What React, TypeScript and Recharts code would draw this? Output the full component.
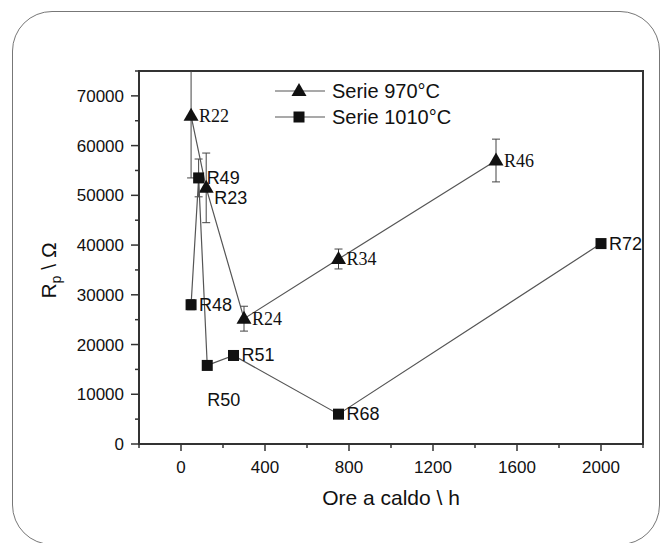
import {
  ErrorBar,
  Label,
  LabelList,
  Legend,
  ReferenceArea,
  Scatter,
  ScatterChart,
  XAxis,
  YAxis,
} from "recharts"

// Serie 970°C (triangoli)
const hours970 = [48, 120, 300, 750, 1500]
const rp970 = [66000, 51500, 25200, 37200, 57000]
const err970 = [12500, 7000, 2500, 2000, 4300]
const names970 = ["R22", "R23", "R24", "R34", "R46"]

// Serie 1010°C (quadrati)
const hours1010 = [48, 84, 125, 250, 750, 2000]
const rp1010 = [28000, 53500, 15800, 17800, 6000, 40300]
const err1010 = [1000, 3800, 0, 0, 0, 800]
const names1010 = ["R48", "R49", "R50", "R51", "R68", "R72"]

const xTicks = [-200, 0, 200, 400, 600, 800, 1000, 1200, 1400, 1600, 1800, 2000, 2200]
const xLabels = [0, 400, 800, 1200, 1600, 2000]
const yTicks = [
  0, 5000, 10000, 15000, 20000, 25000, 30000, 35000, 40000, 45000, 50000, 55000, 60000,
  65000, 70000, 75000,
]
const yLabels = [0, 10000, 20000, 30000, 40000, 50000, 60000, 70000]

const data970 = hours970.map((x, i) => ({ x, y: rp970[i], err: err970[i], name: names970[i] }))
const data1010 = hours1010.map((x, i) => ({ x, y: rp1010[i], err: err1010[i], name: names1010[i] }))

const W = 661
const H = 543
const MARGIN = { top: 71, right: 18, bottom: 49, left: 79 }
const Y_AXIS_W = 60
const X_AXIS_H = 50

const SANS = "'Liberation Sans', Arial, sans-serif"
const SERIF = "'Liberation Serif', 'Times New Roman', serif"
const INK = "#111"
const AXIS = "#333"
const serifLabels = ["R22", "R24", "R34", "R46"]

function Triangle(props: any) {
  const { cx, cy } = props
  return <polygon points={`${cx - 7.5},${cy + 5} ${cx + 7.5},${cy + 5} ${cx},${cy - 8}`} fill={INK} />
}

function Square(props: any) {
  const { cx, cy } = props
  return <rect x={cx - 5.5} y={cy - 5.5} width={11} height={11} fill={INK} />
}

function PointLabel(props: any) {
  const box = props.viewBox ?? props
  const cx = box.x + (box.width ?? 0) / 2
  const cy = box.y + (box.height ?? 0) / 2
  const name = String(props.value)
  let dx = 8
  let dy = 0
  if (name === "R23") dy = 10
  if (name === "R50") {
    dx = 0
    dy = 35
  }
  return (
    <text
      x={cx + dx}
      y={cy + dy + 6}
      fill={INK}
      fontSize={18}
      fontFamily={serifLabels.includes(name) ? SERIF : SANS}
    >
      {name}
    </text>
  )
}

function XTick(props: any) {
  const { x, y, payload } = props
  const major = xLabels.includes(payload.value)
  return (
    <g>
      <line x1={x} y1={y} x2={x} y2={y + (major ? 7 : 4)} stroke={AXIS} strokeWidth={1.5} />
      {major && (
        <text x={x} y={y + 29} textAnchor="middle" fontSize={17} fontFamily={SANS} fill={INK}>
          {payload.value}
        </text>
      )}
    </g>
  )
}

function YTick(props: any) {
  const { x, y, payload } = props
  const major = yLabels.includes(payload.value)
  return (
    <g>
      <line x1={x} y1={y} x2={x - (major ? 8 : 4)} y2={y} stroke={AXIS} strokeWidth={1.5} />
      {major && (
        <text x={x - 15} y={y + 6} textAnchor="end" fontSize={17} fontFamily={SANS} fill={INK}>
          {payload.value}
        </text>
      )}
    </g>
  )
}

function LegendBox() {
  const rows = [
    { label: "Serie 970°C", tri: true },
    { label: "Serie 1010°C", tri: false },
  ]
  return (
    <div style={{ fontFamily: SANS, fontSize: 20, color: INK }}>
      {rows.map((r) => (
        <div key={r.label} style={{ display: "flex", alignItems: "center", height: 26 }}>
          <svg width={52} height={26}>
            <line x1={0} y1={13} x2={50} y2={13} stroke="#555" strokeWidth={1.2} />
            {r.tri ? (
              <polygon points="16.5,18 31.5,18 24,5" fill={INK} />
            ) : (
              <rect x={18.5} y={7.5} width={11} height={11} fill={INK} />
            )}
          </svg>
          <span style={{ marginLeft: 5, lineHeight: "26px" }}>{r.label}</span>
        </div>
      ))}
    </div>
  )
}

export default function App() {
  const plotX = MARGIN.left + Y_AXIS_W
  const plotY = MARGIN.top
  const plotW = W - plotX - MARGIN.right
  const plotH = H - MARGIN.top - MARGIN.bottom - X_AXIS_H
  return (
    <div style={{ position: "absolute", left: 0, top: 0, width: W, height: H, overflow: "hidden", background: "#fff" }}>
      <style>{`.recharts-errorBar { clip-path: url(#plotAreaClip); }`}</style>
      <svg width={0} height={0} style={{ position: "absolute" }}>
        <defs>
          <clipPath id="plotAreaClip">
            <rect x={plotX} y={plotY} width={plotW} height={plotH} />
          </clipPath>
        </defs>
      </svg>
      <div
        style={{
          position: "absolute",
          left: 12,
          top: 11,
          width: 648,
          height: 534,
          border: "1.5px solid #777",
          borderRadius: 40,
          boxSizing: "border-box",
        }}
      />
      <ScatterChart width={W} height={H} margin={MARGIN}>
        <XAxis
          type="number"
          dataKey="x"
          domain={[-200, 2200]}
          ticks={xTicks}
          interval={0}
          allowDataOverflow
          height={X_AXIS_H}
          tickSize={0}
          tickMargin={0}
          tickLine={false}
          tick={XTick}
          axisLine={{ stroke: AXIS, strokeWidth: 2 }}
        >
          <Label
            content={(p: any) => {
              const vb = p.viewBox
              return (
                <text x={vb.x + vb.width / 2} y={vb.y + 61} textAnchor="middle" fontSize={21} fontFamily={SANS} fill={INK}>
                  Ore a caldo \ h
                </text>
              )
            }}
          />
        </XAxis>
        <YAxis
          type="number"
          dataKey="y"
          domain={[0, 75000]}
          ticks={yTicks}
          interval={0}
          allowDataOverflow
          width={Y_AXIS_W}
          tickSize={0}
          tickMargin={0}
          tickLine={false}
          tick={YTick}
          axisLine={{ stroke: AXIS, strokeWidth: 2 }}
        >
          <Label
            content={(p: any) => {
              const vb = p.viewBox
              const lx = vb.x - 23
              const ly = vb.y + vb.height / 2 + 13
              return (
                <text
                  x={lx}
                  y={ly}
                  transform={`rotate(-90 ${lx} ${ly})`}
                  textAnchor="middle"
                  fontSize={21}
                  fontFamily={SANS}
                  fill={INK}
                >
                  R<tspan fontSize={14} dy={5}>p</tspan>
                  <tspan dy={-5}> \ Ω</tspan>
                </text>
              )
            }}
          />
        </YAxis>
        <ReferenceArea x1={-200} x2={2200} y1={0} y2={75000} fill="none" stroke={AXIS} strokeWidth={2} />
        <Legend
          layout="horizontal"
          verticalAlign="middle"
          align="center"
          content={() => <LegendBox />}
          wrapperStyle={{ left: 275, top: 78, width: 220, height: 52 }}
        />
        <Scatter
          name="Serie 970°C"
          data={data970}
          fill={INK}
          shape={Triangle}
          line={{ stroke: "#555", strokeWidth: 1.2 }}
          lineType="joint"
          isAnimationActive={false}
        >
          <ErrorBar dataKey="err" direction="y" width={4} stroke="#444" strokeWidth={1} />
          <LabelList dataKey="name" content={PointLabel} />
        </Scatter>
        <Scatter
          name="Serie 1010°C"
          data={data1010}
          fill={INK}
          shape={Square}
          line={{ stroke: "#555", strokeWidth: 1.2 }}
          lineType="joint"
          isAnimationActive={false}
        >
          <ErrorBar dataKey="err" direction="y" width={4} stroke="#444" strokeWidth={1} />
          <LabelList dataKey="name" content={PointLabel} />
        </Scatter>
      </ScatterChart>
    </div>
  )
}
